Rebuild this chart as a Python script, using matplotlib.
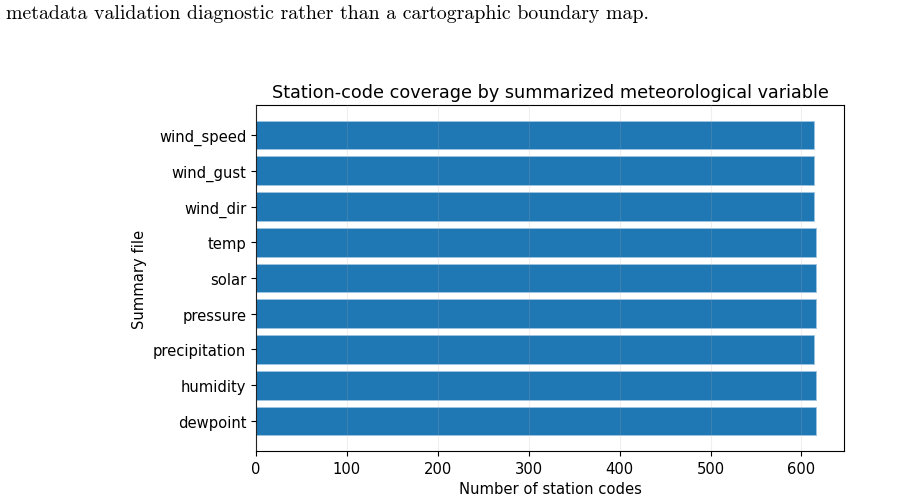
import matplotlib.pyplot as plt

# Data
variables = ['dewpoint', 'humidity', 'precipitation', 'pressure', 'solar',
             'temp', 'wind_dir', 'wind_gust', 'wind_speed']
station_counts = [616, 616, 614, 616, 616, 616, 614, 614, 614]

fig = plt.figure(figsize=(9.02, 5.02), dpi=100)
ax = fig.add_axes([256 / 902, 50 / 502, 588 / 902, 346 / 502])

ax.barh(variables, station_counts, color='#1f77b4', height=0.8,
        edgecolor='#9ec4e0', linewidth=0.6)
ax.grid(axis='x', alpha=0.2)
ax.set_axisbelow(False)

ax.set_title('Station-code coverage by summarized meteorological variable', fontsize=12.7)
ax.set_xlabel('Number of station codes', fontsize=10.6)
ax.set_ylabel('Summary file', fontsize=10.6)
ax.tick_params(labelsize=10.6)

# leftover caption text from the page above the figure
fig.text(6 / 902, 1 - 14 / 502,
         'metadata validation diagnostic rather than a cartographic boundary map.',
         family='cmr10', fontsize=14.3, va='center', ha='left')

fig.savefig('out.png', dpi=100)
